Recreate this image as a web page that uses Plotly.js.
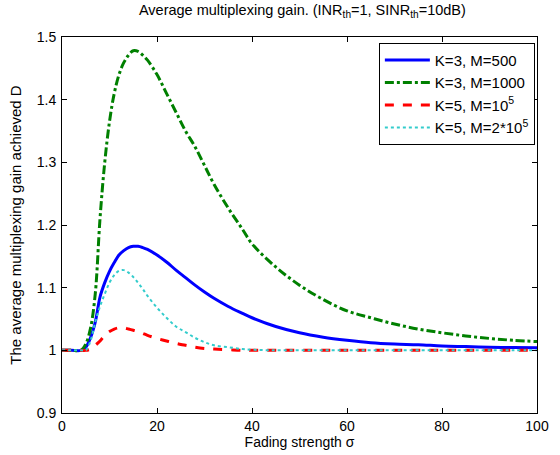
<!DOCTYPE html>
<html>
<head>
<meta charset="utf-8">
<script src="https://cdn.plot.ly/plotly-3.0.1.min.js"></script>
<style>html,body{margin:0;padding:0;background:#fff;}#chart{width:560px;height:455px;}</style>
</head>
<body>
<div id="chart"></div>
<script>
const sigma = [0,2,4,5,6,7,8,9,10,11,12,13,14,15,16,17,18,20,22,24,26,28,30,32,35,38,40,45,50,55,60,65,70,75,80,85,90,95,100];

const k3m500 = [1,1,1,1.005,1.02,1.045,1.085,1.108,1.126,1.14,1.152,1.159,1.164,1.166,1.166,1.164,1.161,1.152,1.141,1.128,1.116,1.104,1.093,1.083,1.07,1.059,1.052,1.038,1.028,1.021,1.016,1.012,1.010,1.009,1.007,1.006,1.005,1.0045,1.004];

const k3m1000 = [1,1,1,1.01,1.035,1.09,1.21,1.30,1.365,1.41,1.44,1.459,1.471,1.478,1.477,1.471,1.463,1.44,1.41,1.38,1.35,1.325,1.295,1.265,1.227,1.193,1.17,1.133,1.104,1.081,1.063,1.052,1.042,1.034,1.028,1.023,1.019,1.016,1.014];

const k5m1e5 = [1,1,1,1,1.002,1.008,1.015,1.024,1.03,1.034,1.036,1.036,1.034,1.032,1.03,1.027,1.024,1.019,1.015,1.011,1.008,1.005,1.003,1.002,1.001,1,1,1,1,1,1,1,1,1,1,1,1,1,1];

const k5m2e5 = [1,1,1,1,1.015,1.045,1.07,1.09,1.108,1.12,1.127,1.128,1.124,1.117,1.108,1.098,1.087,1.068,1.052,1.038,1.029,1.02,1.013,1.008,1.005,1.002,1.001,1,1,1,1,1,1,1,1,1,1,1,1];

const names = ['K=3, M=500','K=3, M=1000','K=5, M=10<sup>5</sup>','K=5, M=2*10<sup>5</sup>'];
const xTicks = [0,20,40,60,80,100];
const yTicks = [0.9,1,1.1,1.2,1.3,1.4,1.5];
const yTickText = ['0.9','1','1.1','1.2','1.3','1.4','1.5'];

const traces = [
  {x: sigma, y: k3m500, name: names[0], mode: 'lines', line: {color: '#0000ff', width: 3, shape: 'spline'}},
  {x: sigma, y: k3m1000, name: names[1], mode: 'lines', line: {color: '#008000', width: 3, dash: 'dashdot', shape: 'spline'}},
  {x: sigma, y: k5m1e5, name: names[2], mode: 'lines', line: {color: '#ff0000', width: 3, dash: 'dash', shape: 'spline'}},
  {x: sigma, y: k5m2e5, name: names[3], mode: 'lines', line: {color: '#33cccc', width: 2, dash: 'dot', shape: 'spline'}}
];

const font = {family: 'Liberation Sans, Arial, sans-serif', color: '#000'};

const layout = {
  width: 560, height: 455,
  margin: {l: 62, r: 23, t: 37, b: 42},
  paper_bgcolor: '#fff', plot_bgcolor: '#fff',
  font: Object.assign({size: 14}, font),
  showlegend: true,
  title: {text: 'Average multiplexing gain. (INR<sub>th</sub>=1, SINR<sub>th</sub>=10dB)', font: Object.assign({size: 14.5}, font), x: 0.54, xanchor: 'center', y: 0.99, yanchor: 'top'},
  xaxis: {
    range: [0, 100], tickvals: xTicks, ticks: 'inside', ticklen: 5, tickcolor: '#000',
    showline: true, linecolor: '#000', linewidth: 1, mirror: 'ticks', showgrid: false, zeroline: false,
    tickfont: Object.assign({size: 14}, font),
    title: {text: 'Fading strength σ', font: Object.assign({size: 14}, font), standoff: 3}
  },
  yaxis: {
    range: [0.9, 1.5], tickvals: yTicks, ticktext: yTickText, ticks: 'inside', ticklen: 5, tickcolor: '#000',
    showline: true, linecolor: '#000', linewidth: 1, mirror: 'ticks', showgrid: false, zeroline: false,
    tickfont: Object.assign({size: 14}, font), ticklabelstandoff: 2,
    title: {text: 'The average multiplexing gain achieved D', font: Object.assign({size: 15}, font), standoff: 11}
  },
  legend: {
    x: 0.9955, xanchor: 'right', y: 0.985, yanchor: 'top',
    bgcolor: '#fff', bordercolor: '#000', borderwidth: 1,
    font: Object.assign({size: 15}, font), tracegroupgap: 0, itemwidth: 45
  }
};

Plotly.newPlot('chart', traces, layout, {displayModeBar: false, staticPlot: true});
</script>
</body>
</html>
